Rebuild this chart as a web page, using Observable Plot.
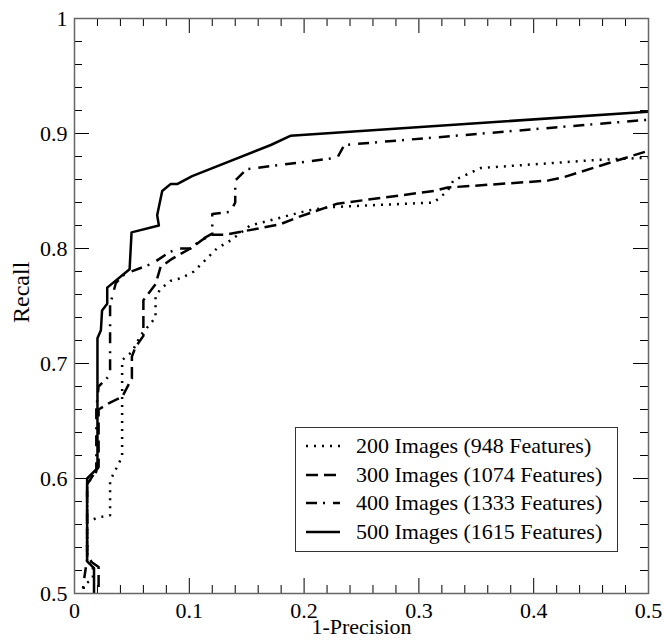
<!DOCTYPE html>
<html><head><meta charset="utf-8">
<script src="https://cdn.jsdelivr.net/npm/d3@7"></script>
<script src="https://cdn.jsdelivr.net/npm/@observablehq/plot@0.6"></script>
<style>
body{margin:0;background:#fff;}
#wrap{position:relative;width:664px;height:644px;font-family:"Liberation Serif","Times New Roman",serif;}
#legend{position:absolute;left:295px;top:427px;width:321px;height:123px;border:1px solid #333;background:#fff;}
.row{position:absolute;left:0;width:321px;height:28px;}
.row svg{position:absolute;left:10px;top:9px;}
.row span{position:absolute;left:60px;top:0;line-height:28px;font-size:22px;color:#000;white-space:nowrap;}
</style></head><body><div id="wrap"></div>
<script>
// ---- data ----
const seriesNames = ["200 Images (948 Features)","300 Images (1074 Features)","400 Images (1333 Features)","500 Images (1615 Features)"];
const x200 = [0.008,0.008,0.016,0.016,0.011,0.011,0.020,0.031,0.031,0.037,0.0415,0.0415,0.050,0.058,0.0706,0.0706,0.075,0.084,0.0923,0.104,0.124,0.136,0.153,0.203,0.223,0.313,0.325,0.330,0.354,0.455,0.5];
const y200 = [0.490,0.507,0.513,0.525,0.535,0.562,0.566,0.568,0.598,0.610,0.619,0.703,0.710,0.725,0.740,0.758,0.765,0.772,0.774,0.780,0.800,0.807,0.820,0.833,0.836,0.840,0.850,0.859,0.870,0.877,0.879];
const x300 = [0.021,0.021,0.011,0.011,0.021,0.021,0.031,0.0415,0.050,0.050,0.053,0.060,0.060,0.0706,0.075,0.085,0.090,0.101,0.112,0.120,0.1315,0.179,0.194,0.229,0.313,0.325,0.412,0.426,0.458,0.5];
const y300 = [0.490,0.523,0.530,0.595,0.610,0.660,0.666,0.671,0.687,0.706,0.714,0.724,0.755,0.769,0.784,0.791,0.794,0.800,0.808,0.812,0.812,0.821,0.827,0.839,0.850,0.853,0.859,0.862,0.872,0.885];
const x400 = [0.006,0.008,0.011,0.011,0.019,0.019,0.021,0.031,0.031,0.036,0.044,0.068,0.083,0.092,0.101,0.111,0.120,0.120,0.136,0.140,0.140,0.150,0.229,0.235,0.5];
const y400 = [0.490,0.510,0.530,0.595,0.606,0.660,0.680,0.690,0.751,0.770,0.778,0.787,0.797,0.800,0.800,0.808,0.813,0.830,0.832,0.840,0.859,0.869,0.879,0.890,0.912];
const x500 = [0.017,0.017,0.011,0.011,0.020,0.020,0.023,0.024,0.0285,0.0285,0.048,0.0497,0.0735,0.072,0.0764,0.0836,0.0894,0.1025,0.171,0.188,0.5];
const y500 = [0.490,0.522,0.528,0.600,0.609,0.722,0.729,0.746,0.752,0.766,0.782,0.814,0.820,0.829,0.850,0.856,0.856,0.863,0.890,0.898,0.919];
const xTicks = [0,0.1,0.2,0.3,0.4,0.5];
const yTicks = [0.5,0.6,0.7,0.8,0.9,1];
const xLabel = "1-Precision";
const yLabel = "Recall";

// ---- build ----
const W = 664, H = 644, mL = 74, mR = 16, mT = 18, mB = 51;
const pw = W - mL - mR, ph = H - mT - mB;
const xs = [x200,x300,x400,x500], ys = [y200,y300,y400,y500];
const dashes = ["2,6","12,6","11,6,2,8",null];
const rows = [];
seriesNames.forEach((name,i)=> xs[i].forEach((x,j)=> rows.push({series:name, x, y: ys[i][j]})));
const xMinor = d3.range(0, 51, 2).filter(v => v % 10 !== 0).map(v => v/100);
const yMinor = d3.range(50, 101, 2).filter(v => v % 10 !== 0).map(v => v/100);
const fmt = d => String(+d.toFixed(1));
const MAJ = 15, MIN = 8;

const lineMarks = seriesNames.map((name,i) => Plot.line(rows.filter(r => r.series === name), {
  x: "x", y: "y", stroke: "black", strokeWidth: 2.5, strokeLinecap: "butt", strokeLinejoin: "round",
  strokeDasharray: dashes[i] || undefined, clip: true
}));

const chart = Plot.plot({
  width: W, height: H, marginLeft: mL, marginRight: mR, marginTop: mT, marginBottom: mB,
  style: {fontFamily: '"Liberation Serif","Times New Roman",serif', fontSize: "22px", color: "black", background: "white"},
  x: {domain: [0, 0.5]},
  y: {domain: [0.5, 1]},
  marks: [
    ...lineMarks,
    Plot.tickX(xTicks, {x: d => d, insetTop: ph - MAJ, stroke: "black", strokeWidth: 1}),
    Plot.tickX(xTicks, {x: d => d, insetBottom: ph - MAJ, stroke: "black", strokeWidth: 1}),
    Plot.tickX(xMinor, {x: d => d, insetTop: ph - MIN, stroke: "black", strokeWidth: 1}),
    Plot.tickX(xMinor, {x: d => d, insetBottom: ph - MIN, stroke: "black", strokeWidth: 1}),
    Plot.tickY(yTicks, {y: d => d, insetRight: pw - MAJ, stroke: "black", strokeWidth: 1}),
    Plot.tickY(yTicks, {y: d => d, insetLeft: pw - MAJ, stroke: "black", strokeWidth: 1}),
    Plot.tickY(yMinor, {y: d => d, insetRight: pw - MIN, stroke: "black", strokeWidth: 1}),
    Plot.tickY(yMinor, {y: d => d, insetLeft: pw - MIN, stroke: "black", strokeWidth: 1}),
    Plot.frame({stroke: "#666", strokeWidth: 1.5}),
    Plot.axisX(xTicks, {tickSize: 0, tickPadding: 9, tickFormat: fmt, label: null, fill: "black"}),
    Plot.axisY(yTicks, {tickSize: 0, tickPadding: 7, tickFormat: fmt, label: null, fill: "black"}),
    Plot.text([xLabel], {frameAnchor: "bottom", dy: 40, text: d => d, fill: "black", fontSize: 22}),
    Plot.text([yLabel], {frameAnchor: "left", dx: -53, dy: 17, rotate: -90, text: d => d, fill: "black", fontSize: 24})
  ]
});
const wrap = document.getElementById("wrap");
wrap.appendChild(chart);

// legend (overlay inside the plot area)
const leg = document.createElement("div");
leg.id = "legend";
const rowTops = [4, 32.5, 61, 89.5];
seriesNames.forEach((name,i) => {
  const r = document.createElement("div");
  r.className = "row";
  r.style.top = rowTops[i] + "px";
  const ns = "http://www.w3.org/2000/svg";
  const s = document.createElementNS(ns, "svg");
  s.setAttribute("width", 34); s.setAttribute("height", 10);
  const l = document.createElementNS(ns, "line");
  l.setAttribute("x1", 0); l.setAttribute("x2", 34); l.setAttribute("y1", 5); l.setAttribute("y2", 5);
  l.setAttribute("stroke", "black"); l.setAttribute("stroke-width", 2.5);
  if (dashes[i]) l.setAttribute("stroke-dasharray", dashes[i]);
  s.appendChild(l);
  r.appendChild(s);
  const t = document.createElement("span");
  t.textContent = name;
  r.appendChild(t);
  leg.appendChild(r);
});
wrap.appendChild(leg);
</script>
</body></html>
